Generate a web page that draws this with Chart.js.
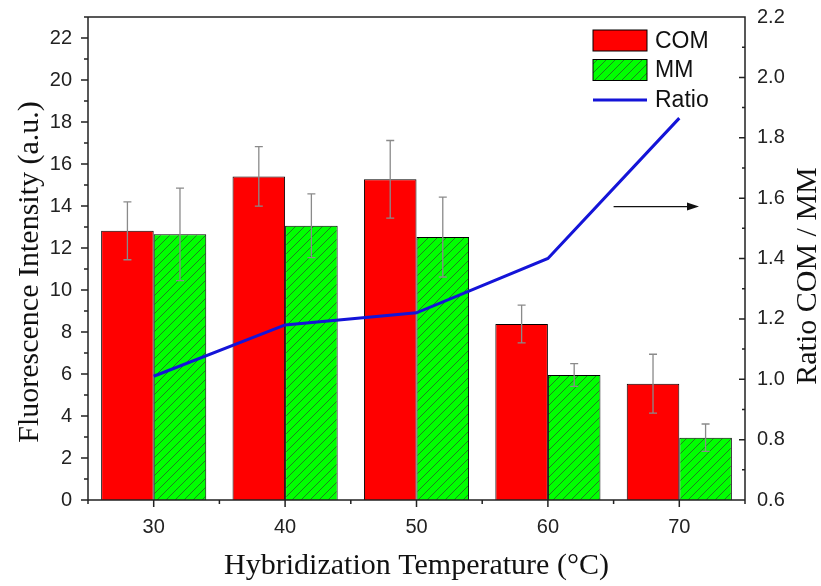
<!DOCTYPE html>
<html>
<head>
<meta charset="utf-8">
<script src="https://cdn.jsdelivr.net/npm/chart.js@4.4.1/dist/chart.umd.min.js"></script>
<style>
  html, body { margin: 0; padding: 0; background: #fff; }
  canvas { display: block; }
</style>
</head>
<body>
<canvas id="chart" width="821" height="586"></canvas>
<script>
// Hybridization temperatures (°C)
const temperatures = ['30', '40', '50', '60', '70'];

// Fluorescence intensity (a.u.) of complementary (COM) and mismatched (MM) probes
const comValues = [12.82, 15.41, 15.27, 8.38, 5.54];
const comErrors = [1.38, 1.42, 1.85, 0.90, 1.40];
const mmValues  = [12.65, 13.06, 12.52, 5.95, 2.97];
const mmErrors  = [2.20, 1.52, 1.90, 0.54, 0.65];

// COM / MM ratio (right axis)
const ratioValues = [1.01, 1.18, 1.22, 1.40, 1.865];

// Axis ranges and tick steps
const intensityRange = [0, 23];
const intensityStep = 2;
const ratioRange = [0.6, 2.2];
const ratioStep = 0.2;

const SANS = '"Liberation Sans", Arial, sans-serif';
const SERIF = '"Liberation Serif", "Times New Roman", serif';
const AXIS_COLOR = '#222';

function hatchPattern(bg, fg, size) {
  const c = document.createElement('canvas');
  c.width = c.height = size;
  const g = c.getContext('2d');
  g.fillStyle = bg;
  g.fillRect(0, 0, size, size);
  g.strokeStyle = fg;
  g.lineWidth = 1;
  g.beginPath();
  g.moveTo(0, size); g.lineTo(size, 0);
  g.moveTo(-2, 2); g.lineTo(2, -2);
  g.moveTo(size - 2, size + 2); g.lineTo(size + 2, size - 2);
  g.stroke();
  return g.createPattern(c, 'repeat');
}

const mmFill = hatchPattern('#00ff00', '#1f7f1f', 9);

// Error bars on top of every bar
const errorBars = {
  id: 'errorBars',
  afterDatasetsDraw(chart) {
    const ctx = chart.ctx;
    const y = chart.scales.y;
    chart.data.datasets.forEach((ds, di) => {
      if (!ds.errors) return;
      const meta = chart.getDatasetMeta(di);
      meta.data.forEach((bar, i) => {
        const v = ds.data[i], e = ds.errors[i];
        const top = y.getPixelForValue(v + e);
        const bot = y.getPixelForValue(v - e);
        ctx.save();
        ctx.strokeStyle = '#8a8a8a';
        ctx.lineWidth = 1.3;
        ctx.beginPath();
        ctx.moveTo(bar.x, top); ctx.lineTo(bar.x, bot);
        ctx.moveTo(bar.x - 4, top); ctx.lineTo(bar.x + 4, top);
        ctx.moveTo(bar.x - 4, bot); ctx.lineTo(bar.x + 4, bot);
        ctx.stroke();
        ctx.restore();
      });
    });
  }
};

// Frame, tick marks, axis titles, legend and the arrow pointing to the right axis
const decorations = {
  id: 'decorations',
  afterDraw(chart) {
    const ctx = chart.ctx;
    const { left: L, right: R, top: T, bottom: B } = chart.chartArea;
    const x = chart.scales.x, y = chart.scales.y, y1 = chart.scales.y1;
    ctx.save();
    ctx.strokeStyle = AXIS_COLOR;
    ctx.lineWidth = 1.5;
    ctx.beginPath();
    ctx.rect(L, T, R - L, B - T);
    // left axis: outward ticks, minor every 1
    for (let v = intensityRange[0]; v <= intensityRange[1]; v += 1) {
      const p = y.getPixelForValue(v);
      const len = v % intensityStep === 0 ? 7 : 4;
      ctx.moveTo(L - len, p); ctx.lineTo(L, p);
    }
    // right axis: inward ticks, minor every 0.1
    const nR = Math.round((ratioRange[1] - ratioRange[0]) / 0.1);
    for (let k = 0; k <= nR; k++) {
      const v = ratioRange[0] + k * 0.1;
      const p = y1.getPixelForValue(v);
      const len = k % 2 === 0 ? 6 : 3;
      ctx.moveTo(R - len, p); ctx.lineTo(R, p);
    }
    // bottom axis: major at categories, minor between them
    temperatures.forEach((t, i) => {
      const p = x.getPixelForValue(i);
      ctx.moveTo(p, B); ctx.lineTo(p, B + 7);
    });
    for (let i = 0; i <= temperatures.length; i++) {
      const p = x.getPixelForValue(i - 0.5);
      ctx.moveTo(p, B); ctx.lineTo(p, B + 4);
    }
    ctx.stroke();

    // axis titles
    ctx.fillStyle = '#111';
    ctx.font = '30px ' + SERIF;
    ctx.textAlign = 'center';
    ctx.textBaseline = 'middle';
    ctx.save();
    ctx.translate(30, 272);
    ctx.rotate(-Math.PI / 2);
    ctx.fillText('Fluorescence Intensity (a.u.)', 0, 0);
    ctx.restore();
    ctx.save();
    ctx.translate(808, 276);
    ctx.rotate(-Math.PI / 2);
    ctx.fillText('Ratio COM / MM', 0, 0);
    ctx.restore();
    ctx.fillText('Hybridization Temperature (\u00B0C)', (L + R) / 2, 566);

    // legend
    const ds = chart.data.datasets;
    const lx = 593, lw = 54, lh = 21, rows = [40.5, 70, 100];
    ctx.font = '23px ' + SANS;
    ctx.textAlign = 'left';
    ctx.textBaseline = 'middle';
    ds.forEach((d, i) => {
      const cy = rows[i];
      if (d.type === 'line') {
        ctx.strokeStyle = d.borderColor;
        ctx.lineWidth = d.borderWidth;
        ctx.beginPath();
        ctx.moveTo(lx, cy); ctx.lineTo(lx + lw, cy);
        ctx.stroke();
      } else {
        ctx.fillStyle = d.backgroundColor;
        ctx.fillRect(lx, cy - lh / 2, lw, lh);
        ctx.strokeStyle = '#000';
        ctx.lineWidth = 1;
        ctx.strokeRect(lx, cy - lh / 2, lw, lh);
      }
      ctx.fillStyle = '#111';
      ctx.fillText(d.label, lx + lw + 8, cy + 1);
    });

    // arrow indicating the ratio line belongs to the right axis
    const ay = y1.getPixelForValue(1.572);
    const ax0 = x.getPixelForValue(3.5);
    const ax1 = x.getPixelForValue(4.15);
    ctx.strokeStyle = '#111';
    ctx.fillStyle = '#111';
    ctx.lineWidth = 1.3;
    ctx.beginPath();
    ctx.moveTo(ax0, ay); ctx.lineTo(ax1 - 8, ay);
    ctx.stroke();
    ctx.beginPath();
    ctx.moveTo(ax1, ay);
    ctx.lineTo(ax1 - 12, ay - 4);
    ctx.lineTo(ax1 - 12, ay + 4);
    ctx.closePath();
    ctx.fill();
    ctx.restore();
  }
};

// Vertical axes: fixed width, no extra room reserved for the end labels
function fixVertical(width) {
  return s => { s.width = width; s.paddingTop = 0; s.paddingBottom = 0; };
}

new Chart(document.getElementById('chart'), {
  data: {
    labels: temperatures,
    datasets: [
      {
        type: 'bar', label: 'COM', data: comValues, errors: comErrors,
        backgroundColor: '#ff0000', borderColor: '#000', borderWidth: 1,
        yAxisID: 'y', order: 2,
        categoryPercentage: 0.8, barPercentage: 1.0
      },
      {
        type: 'bar', label: 'MM', data: mmValues, errors: mmErrors,
        backgroundColor: mmFill, borderColor: '#000', borderWidth: 1,
        yAxisID: 'y', order: 2,
        categoryPercentage: 0.8, barPercentage: 1.0
      },
      {
        type: 'line', label: 'Ratio', data: ratioValues,
        borderColor: '#1414d8', borderWidth: 3, pointRadius: 0,
        tension: 0, fill: false, yAxisID: 'y1', order: 0
      }
    ]
  },
  options: {
    responsive: false,
    animation: false,
    devicePixelRatio: 1,
    layout: { padding: { top: 17, left: 0, right: 0, bottom: 0 } },
    plugins: { legend: { display: false }, tooltip: { enabled: false } },
    scales: {
      x: {
        type: 'category', offset: true,
        grid: { display: false, drawTicks: false },
        border: { display: false },
        ticks: { font: { family: SANS, size: 20 }, color: '#222', padding: 15, maxRotation: 0 },
        afterFit(s) { s.height = 86; s.paddingLeft = 0; s.paddingRight = 0; }
      },
      y: {
        type: 'linear', position: 'left',
        min: intensityRange[0], max: intensityRange[1],
        grid: { display: false, drawTicks: false },
        border: { display: false },
        ticks: {
          stepSize: intensityStep, includeBounds: false,
          font: { family: SANS, size: 20 }, color: '#222', padding: 16,
          callback: v => (v % intensityStep === 0 ? String(v) : '')
        },
        afterFit: fixVertical(88)
      },
      y1: {
        type: 'linear', position: 'right',
        min: ratioRange[0], max: ratioRange[1],
        grid: { display: false, drawTicks: false },
        border: { display: false },
        ticks: {
          stepSize: ratioStep,
          font: { family: SANS, size: 20 }, color: '#222', padding: 12,
          callback: v => Number(v).toFixed(1)
        },
        afterFit: fixVertical(76)
      }
    }
  },
  plugins: [errorBars, decorations]
});
</script>
</body>
</html>
